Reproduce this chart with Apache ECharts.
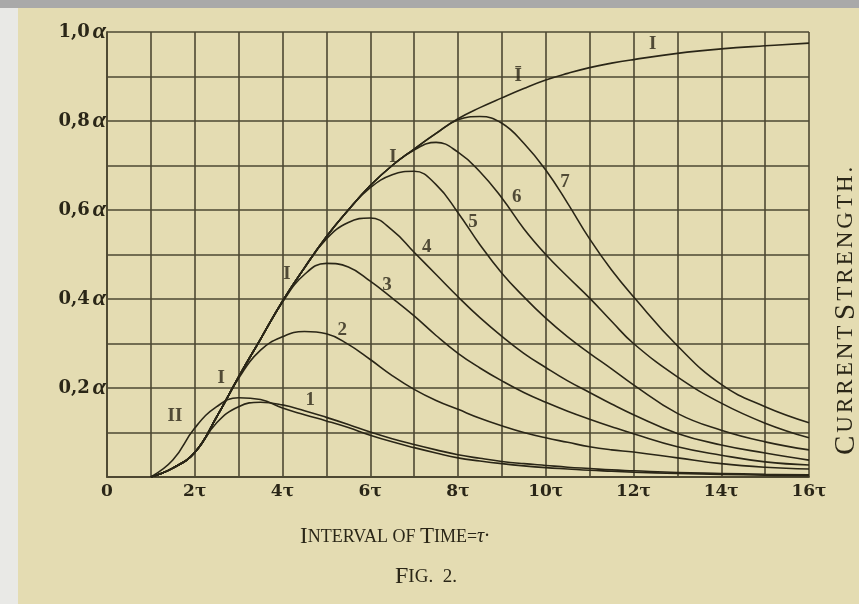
<!DOCTYPE html>
<html><head><meta charset="utf-8">
<script src="https://cdn.jsdelivr.net/npm/echarts@6/dist/echarts.min.js"></script>
<style>html,body{margin:0;padding:0;background:#e4dcb2}#c{width:859px;height:604px}</style>
</head><body><div id="c"></div>
<script>
// time points (in intervals τ)
const times = [1,1.5,2,2.5,3,3.5,4,4.5,5,5.5,6,6.5,7,7.5,8,8.5,9,9.5,10,10.5,11,11.5,12,13,14,15,16];
// current strength (fraction of α)
const curveI  = [0,0.02,0.055,0.135,0.225,0.31,0.395,0.47,0.54,0.60,0.655,0.70,0.737,0.772,0.805,0.83,0.852,0.873,0.892,0.907,0.92,0.93,0.938,0.952,0.962,0.969,0.975];
const curveII = [0,0.038,0.11,0.158,0.178,0.174,0.155,0.14,0.126,0.111,0.094,0.079,0.066,0.054,0.043,0.036,0.03,0.025,0.021,0.018,0.015,0.013,0.011,0.008,0.006,0.004,0.003];
const curve1  = [0,0.02,0.055,0.122,0.158,0.168,0.162,0.149,0.134,0.118,0.101,0.086,0.073,0.061,0.05,0.042,0.035,0.03,0.026,0.022,0.019,0.016,0.014,0.01,0.008,0.006,0.005];
const curve2  = [0,0.02,0.055,0.135,0.222,0.285,0.315,0.327,0.322,0.298,0.264,0.228,0.197,0.172,0.152,0.132,0.115,0.1,0.088,0.078,0.068,0.061,0.056,0.043,0.03,0.022,0.018];
const curve3  = [0,0.02,0.055,0.135,0.225,0.31,0.393,0.455,0.48,0.472,0.44,0.402,0.362,0.318,0.278,0.245,0.216,0.19,0.168,0.148,0.13,0.113,0.097,0.068,0.049,0.034,0.027];
const curve4  = [0,0.02,0.055,0.135,0.225,0.31,0.395,0.47,0.535,0.572,0.582,0.555,0.505,0.455,0.405,0.358,0.316,0.278,0.246,0.216,0.19,0.164,0.14,0.098,0.072,0.054,0.038];
const curve5  = [0,0.02,0.055,0.135,0.225,0.31,0.395,0.47,0.54,0.60,0.65,0.679,0.687,0.657,0.594,0.522,0.458,0.405,0.357,0.315,0.278,0.243,0.207,0.143,0.105,0.079,0.061];
const curve6  = [0,0.02,0.055,0.135,0.225,0.31,0.395,0.47,0.54,0.60,0.655,0.70,0.735,0.752,0.73,0.686,0.627,0.558,0.50,0.45,0.402,0.35,0.3,0.225,0.166,0.121,0.088];
const curve7  = [0,0.02,0.055,0.135,0.225,0.31,0.395,0.47,0.54,0.60,0.655,0.70,0.737,0.772,0.803,0.81,0.795,0.75,0.69,0.615,0.535,0.465,0.405,0.295,0.208,0.158,0.122];

// tick labels
const xTickLabels = ['0','','2τ','','4τ','','6τ','','8τ','','10τ','','12τ','','14τ','','16τ'];
const yTickLabels = ['','','0,2','','0,4','','0,6','','0,8','','1,0'];

// curve annotations (data coordinates)
const curveLabels = [
  {text:'I', t:2.6, v:0.222},
  {text:'I', t:4.1, v:0.455},
  {text:'I', t:6.52, v:0.72},
  {text:'Ī', t:9.37, v:0.9},
  {text:'I', t:12.44, v:0.972},
  {text:'II', t:1.55, v:0.136},
  {text:'1', t:4.63, v:0.173},
  {text:'2', t:5.36, v:0.33},
  {text:'3', t:6.38, v:0.431},
  {text:'4', t:7.29, v:0.517},
  {text:'5', t:8.34, v:0.573},
  {text:'6', t:9.34, v:0.629},
  {text:'7', t:10.44, v:0.663}
];

const ink = '#2a2617';
const gridInk = '#4d4832';
const serif = "'DejaVu Serif', 'Liberation Serif', serif";
const times2 = "'Liberation Serif', 'DejaVu Serif', serif";
const thin = '\u2009';

const curves = [curveI, curveII, curve1, curve2, curve3, curve4, curve5, curve6, curve7];
const names = ['I','II','1','2','3','4','5','6','7'];
const series = curves.map((vals, k) => ({
  type: 'line', name: names[k],
  data: times.map((t, i) => [t, vals[i]]),
  smooth: 0.45, symbol: 'none', showSymbol: false,
  lineStyle: {color: ink, width: 1.6}, silent: true, z: 3
}));
series.push({
  type: 'scatter', data: curveLabels.map(l => [l.t, l.v, l.text]), symbolSize: 0, silent: true, z: 4,
  label: {show: true, position: 'inside', formatter: p => p.value[2], color: ink,
          fontFamily: times2, fontWeight: 'bold', fontSize: 19}
});

// spaced small-caps helper for the rotated side title
function spaced(word, style) {
  return word.split('').map(ch => '{' + style + '|' + ch + '}').join('{g|' + thin + '}');
}
const sideTitle = '{c|C}{g|' + thin + '}' + spaced('URRENT', 's') + '{s| }{c|S}{g|' + thin + '}' + spaced('TRENGTH.', 's');

const chart = echarts.init(document.getElementById('c'), null, {renderer: 'canvas'});
chart.setOption({
  animation: false,
  backgroundColor: '#e4dcb2',
  grid: {left: 107, right: 50, top: 32, bottom: 127, containLabel: false},
  xAxis: {
    type: 'value', min: 0, max: 16, interval: 1,
    axisLine: {show: true, lineStyle: {color: gridInk, width: 1.8}},
    axisTick: {show: false},
    splitLine: {show: true, lineStyle: {color: gridInk, width: 1.6}},
    axisLabel: {margin: 6, formatter: v => xTickLabels[Math.round(v)] || '',
      color: ink, fontFamily: serif, fontWeight: 'bold', fontSize: 17}
  },
  yAxis: {
    type: 'value', min: 0, max: 1, interval: 0.1,
    axisLine: {show: true, lineStyle: {color: gridInk, width: 1.8}},
    axisTick: {show: false},
    splitLine: {show: true, lineStyle: {color: gridInk, width: 1.6}},
    axisLabel: {margin: 1, formatter: v => { const s = yTickLabels[Math.round(v * 10)]; return s ? '{n|' + s + '}{a|α}' : ''; },
      rich: {
        n: {color: ink, fontFamily: serif, fontWeight: 'bold', fontSize: 18},
        a: {color: ink, fontFamily: times2, fontStyle: 'italic', fontWeight: 'bold', fontSize: 24, padding: [0, 0, 0, 3]}
      }}
  },
  graphic: [
    {type: 'rect', z: -1, shape: {x: 0, y: 0, width: 859, height: 8}, style: {fill: '#a9a9a9'}},
    {type: 'rect', z: -1, shape: {x: 0, y: 8, width: 18, height: 596}, style: {fill: '#e9e9e6'}},
    {type: 'text', x: 300, y: 537, style: {
      text: '{c|I}{s|NTERVAL OF }{c|T}{s|IME=}{t|τ·}', verticalAlign: 'middle',
      rich: {
        c: {fontFamily: times2, fontSize: 23, fill: ink},
        s: {fontFamily: times2, fontSize: 18, fill: ink},
        t: {fontFamily: times2, fontStyle: 'italic', fontSize: 20, fill: ink}
      }}},
    {type: 'text', x: 395, y: 577, style: {
      text: '{c|F}{s|IG.  2.}', verticalAlign: 'middle',
      rich: {
        c: {fontFamily: times2, fontSize: 24, fill: ink},
        s: {fontFamily: times2, fontSize: 19, fill: ink}
      }}},
    {type: 'text', x: 846, y: 455, rotation: Math.PI / 2, style: {
      text: sideTitle, verticalAlign: 'middle',
      rich: {
        c: {fontFamily: times2, fontSize: 29, fill: ink},
        s: {fontFamily: times2, fontSize: 23, fill: ink},
        g: {fontFamily: times2, fontSize: 15, fill: ink}
      }}}
  ],
  series: series
});
</script></body></html>
